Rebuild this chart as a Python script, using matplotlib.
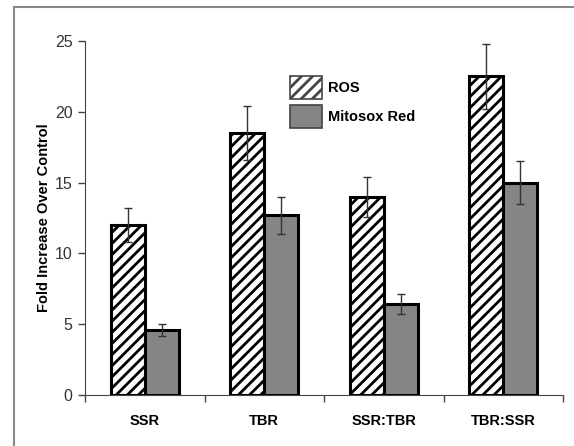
import matplotlib
matplotlib.use("Agg")
import matplotlib.pyplot as plt
import numpy as np
from matplotlib.patches import Patch
from matplotlib.lines import Line2D

categories = ["SSR", "TBR", "SSR:TBR", "TBR:SSR"]
ros = [12.0, 18.5, 14.0, 22.5]
ros_err = [1.2, 1.9, 1.4, 2.3]
mito = [4.6, 12.7, 6.4, 15.0]
mito_err = [0.4, 1.3, 0.7, 1.5]
yticks = [0, 5, 10, 15, 20, 25]

plt.rcParams['font.family'] = ['Liberation Sans', 'DejaVu Sans']
plt.rcParams['hatch.linewidth'] = 2.0

fig = plt.figure(figsize=(5.74, 4.46), dpi=100)
ax = fig.add_axes([85/574, (446-395)/446, (563-85)/574, (395-41)/446])

x = np.arange(len(categories))
w = 0.285
ax.bar(x - w/2, ros, w, color="white", edgecolor="black", linewidth=2.2, hatch="///", zorder=2)
ax.bar(x + w/2, mito, w, color="#858585", edgecolor="black", linewidth=2.2, zorder=2)
ax.errorbar(x - w/2, ros, yerr=ros_err, fmt="none", ecolor="#333333", elinewidth=1.0, capsize=3, capthick=1.0, zorder=3)
ax.errorbar(x + w/2, mito, yerr=mito_err, fmt="none", ecolor="#333333", elinewidth=1.0, capsize=3, capthick=1.0, zorder=3)

ax.set_xlim(-0.5, len(categories) - 0.5)
ax.set_ylim(0, 25)
ax.set_yticks(yticks)
ax.set_yticklabels([str(t) for t in yticks], fontsize=11.5, color="#333333")
ax.set_xticks(np.arange(len(categories) + 1) - 0.5, minor=False)
ax.set_xticklabels([""] * (len(categories) + 1))
ax.set_xticks(x, minor=True)
ax.set_xticklabels(categories, minor=True, fontsize=10.5, fontweight="bold")
ax.tick_params(axis="x", which="minor", length=0, pad=14)
ax.tick_params(axis="x", which="major", direction="out", length=5, width=1, color="#444444")
ax.tick_params(axis="y", direction="out", length=5, width=1, color="#444444", pad=4)
for s in ["top", "right"]:
    ax.spines[s].set_visible(False)
ax.spines["left"].set_color("#444444")
ax.spines["bottom"].set_color("#444444")
ax.set_ylabel("Fold Increase Over Control", fontsize=10.5, fontweight="bold", labelpad=3)

handles = [Patch(facecolor="white", edgecolor="#444444", hatch="///", linewidth=1.2),
           Patch(facecolor="#858585", edgecolor="#444444", linewidth=1.2)]
leg = ax.legend(handles, ["ROS", "Mitosox Red"], loc="upper left",
                bbox_to_anchor=((290 - 85) / 478, (395 - 76) / 354), frameon=False,
                borderpad=0, borderaxespad=0, handlelength=2.2,
                handleheight=2.1, handletextpad=0.4, labelspacing=0.35,
                prop={"weight": "bold", "size": 10.5})

# figure border
fig.add_artist(Line2D([14/574, 14/574], [0, 1 - 7/446], transform=fig.transFigure, color="#888888", linewidth=1.5))
fig.add_artist(Line2D([14/574, 1], [1 - 7/446, 1 - 7/446], transform=fig.transFigure, color="#888888", linewidth=1.5))

fig.savefig("out.png", dpi=100)
